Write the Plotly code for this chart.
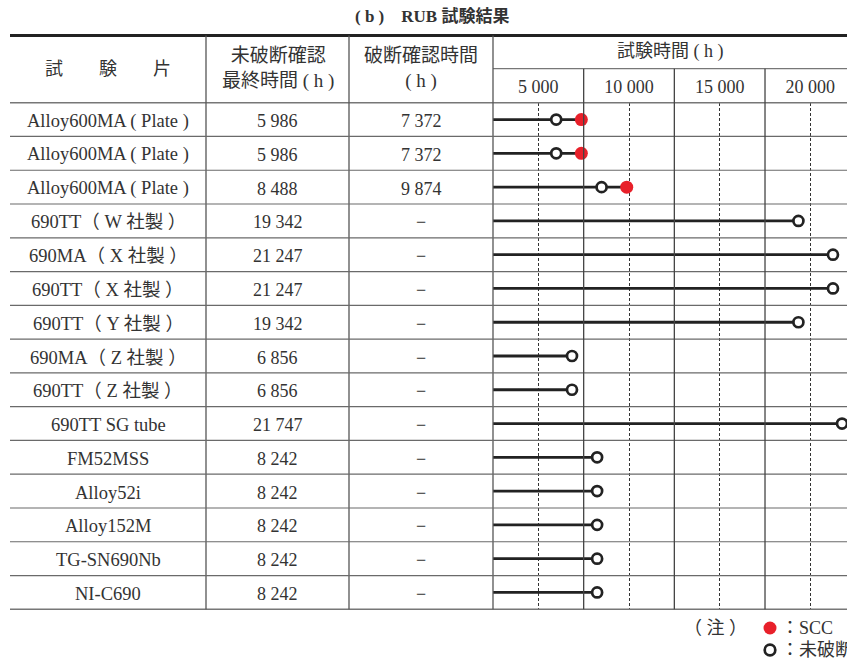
import plotly.graph_objects as go

# ---- data -------------------------------------------------------------
specimens = [
    "Alloy600MA ( Plate )", "Alloy600MA ( Plate )", "Alloy600MA ( Plate )",
    "690TT（ W 社製 ）", "690MA（ X 社製 ）", "690TT（ X 社製 ）",
    "690TT（ Y 社製 ）", "690MA（ Z 社製 ）", "690TT（ Z 社製 ）",
    "690TT SG tube", "FM52MSS", "Alloy52i", "Alloy152M", "TG-SN690Nb", "NI-C690",
]
last_unbroken_h = [5986, 5986, 8488, 19342, 21247, 21247, 19342, 6856, 6856,
                   21747, 8242, 8242, 8242, 8242, 8242]
fracture_h = [7372, 7372, 9874, None, None, None, None, None, None,
              None, None, None, None, None, None]
tick_hours = [5000, 10000, 15000, 20000]
cell_bounds_h = [7500, 12500, 17500]

# ---- page geometry (pixels) ------------------------------------------
W, H = 847, 660
TABLE_L, COL1_R, COL2_R, CHART_L = 10, 206, 349, 493
TOP, SUB, HEAD_B, BOTTOM = 35.5, 68.7, 102.7, 609.3
PX_PER_H = 90.67 / 5000
X_MIN = 2500
X_MAX = X_MIN + (W - CHART_L) / PX_PER_H


def px(x):
    return x / W


def py(y):
    return 1 - y / H


LATIN = "Liberation Serif, 'Times New Roman', 'Noto Sans CJK JP', serif"
INK = "#333333"
n = len(specimens)


def fmt(v):
    return f"{v:,}".replace(",", " ")


fig = go.Figure()

# test duration lines (start of test at 0 h, clipped by the axis)
lx, ly = [], []
for i in range(n):
    end = fracture_h[i] if fracture_h[i] is not None else last_unbroken_h[i]
    lx += [0, end, None]
    ly += [i, i, None]
fig.add_trace(go.Scatter(x=lx, y=ly, mode="lines",
                         line=dict(color="#222222", width=2.8),
                         hoverinfo="skip", showlegend=False))

# SCC fracture points
fx = [v for v in fracture_h if v is not None]
fy = [i for i, v in enumerate(fracture_h) if v is not None]
fig.add_trace(go.Scatter(x=fx, y=fy, mode="markers", name="SCC",
                         marker=dict(color="#e8202a", size=13, line=dict(width=0)),
                         cliponaxis=False, showlegend=False))

# last confirmed unbroken points
fig.add_trace(go.Scatter(x=last_unbroken_h, y=list(range(n)), mode="markers",
                         name="未破断",
                         marker=dict(color="white", size=10,
                                     line=dict(color="#222222", width=2.7)),
                         cliponaxis=False, showlegend=False))

shapes = []


def hline(y, x0, x1, color="#666666", width=1.2):
    shapes.append(dict(type="line", xref="paper", yref="paper",
                       x0=px(x0), x1=px(x1), y0=py(y), y1=py(y),
                       line=dict(color=color, width=width)))


def vline(x, y0, y1, color="#555555", width=1.3):
    shapes.append(dict(type="line", xref="paper", yref="paper",
                       x0=px(x), x1=px(x), y0=py(y0), y1=py(y1),
                       line=dict(color=color, width=width)))


# table frame
hline(TOP, TABLE_L, W, color="#222222", width=3)
hline(SUB, CHART_L, W, color="#777777", width=1.2)
hline(HEAD_B, TABLE_L, W, color="#777777", width=1.5)
hline(BOTTOM, TABLE_L, W, color="#777777", width=1.5)
for xb in (COL1_R, COL2_R, CHART_L):
    vline(xb, TOP, BOTTOM)

# row separators
for i in range(n - 1):
    shapes.append(dict(type="line", xref="paper", yref="y",
                       x0=px(TABLE_L), x1=1, y0=i + 0.5, y1=i + 0.5,
                       line=dict(color="#6a6a6a", width=1.2)))

# solid cell boundaries of the time columns, up into the header
for b in cell_bounds_h:
    shapes.append(dict(type="line", xref="x", yref="paper",
                       x0=b, x1=b, y0=py(BOTTOM), y1=py(SUB),
                       line=dict(color="#444444", width=1.3)))

# legend symbols
shapes.append(dict(type="circle", xref="paper", yref="paper",
                   xsizemode="pixel", ysizemode="pixel",
                   xanchor=px(770), yanchor=py(628),
                   x0=-6.5, x1=6.5, y0=-6.5, y1=6.5,
                   fillcolor="#e8202a", line=dict(width=0)))
shapes.append(dict(type="circle", xref="paper", yref="paper",
                   xsizemode="pixel", ysizemode="pixel",
                   xanchor=px(770), yanchor=py(650),
                   x0=-5.3, x1=5.3, y0=-5.3, y1=5.3,
                   fillcolor="white", line=dict(color="#222222", width=2.7)))

annotations = []


def text(x, y, s, size=18, yref="paper", xanchor="center", bold=False,
         yshift=0):
    annotations.append(dict(
        x=px(x), y=(py(y) if yref == "paper" else y), xref="paper", yref=yref,
        text=(f"<b>{s}</b>" if bold else s), showarrow=False,
        xanchor=xanchor, yanchor="middle", yshift=yshift,
        font=dict(family=LATIN, size=size, color=INK)))


# title and header
text(432, 16, "( b )　RUB 試験結果", size=17, bold=True)
text((TABLE_L + COL1_R) / 2, 69, "試　　験　　片", size=18)
text((COL1_R + COL2_R) / 2, 69, "未破断確認<br>最終時間 ( h )", size=19)
text((COL2_R + CHART_L) / 2, 69, "破断確認時間<br>( h )", size=19)
text((CHART_L + W) / 2, 52, "試験時間 ( h )", size=18)

# body cells
for i in range(n):
    text((TABLE_L + COL1_R) / 2, i, specimens[i], size=18.5, yref="y",
         yshift=-1.5)
    text((COL1_R + COL2_R) / 2, i, fmt(last_unbroken_h[i]), yref="y",
         yshift=-1.5)
    frac = fmt(fracture_h[i]) if fracture_h[i] is not None else "−"
    text((COL2_R + CHART_L) / 2, i, frac, yref="y", yshift=-1.5)

# legend text
text(715, 628, "（ 注 ）", size=18)
text(779, 628, "：SCC", size=18, xanchor="left")
text(779, 650, "：未破断", size=18, xanchor="left")

fig.update_layout(
    width=W, height=H,
    margin=dict(l=0, r=0, t=0, b=0),
    paper_bgcolor="white", plot_bgcolor="white",
    showlegend=False,
    shapes=shapes, annotations=annotations,
    xaxis=dict(domain=[px(CHART_L), 1], range=[X_MIN, X_MAX],
               side="top", tickmode="array", tickvals=tick_hours,
               ticktext=[fmt(v) for v in tick_hours],
               tickfont=dict(family=LATIN, size=18, color=INK),
               ticks="", ticklabelstandoff=5,
               showgrid=True, gridcolor="#333333", gridwidth=1,
               griddash="3px,2px", zeroline=False, showline=False,
               fixedrange=True),
    yaxis=dict(domain=[py(BOTTOM), py(HEAD_B)], range=[n - 0.5, -0.5],
               showticklabels=False, showgrid=False, zeroline=False,
               showline=False, fixedrange=True),
)

fig.write_html("out.html")
